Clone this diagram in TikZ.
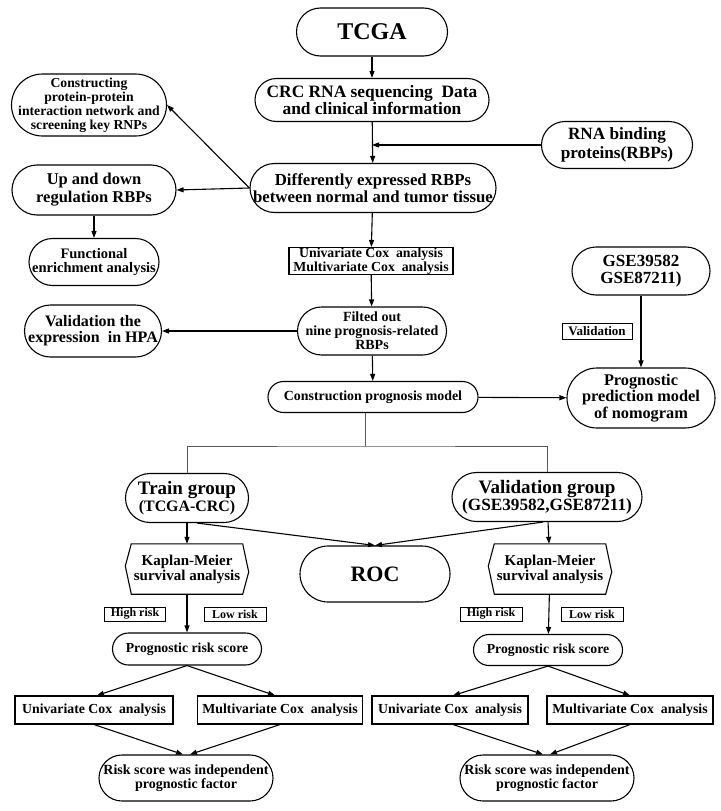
\documentclass[tikz,border=0pt]{standalone}
\usepackage{fontspec}
\setmainfont{Liberation Serif}
\usetikzlibrary{arrows.meta}
\tikzset{
  fs/.style 2 args={font=\fontsize{#1}{#2}\selectfont\bfseries},
  nd/.style={draw, line width=1.1pt, align=center, inner sep=0pt},
  pill/.style 2 args={nd, rectangle, minimum width=#1, minimum height=#2, rounded corners=#2/2},
  bx/.style 2 args={nd, rectangle, minimum width=#1, minimum height=#2},
  lbl/.style 2 args={draw, line width=0.9pt, align=center, inner sep=0pt, rectangle, minimum width=#1, minimum height=#2},
  kmnode/.style={align=center, inner sep=0pt, minimum width=123, minimum height=50},
  arr/.style={line width=1.1pt, -{Triangle[length=7pt,width=5pt]}},
  branch/.style={line width=0.9pt, draw=black!65},
}
\begin{document}
\begin{tikzpicture}[x=1pt,y=-1pt]
\useasboundingbox (0,0) rectangle (720,811);

% top column
\node[pill={151}{48}, fs={24}{26}] (tcga) at (372,32) {TCGA};
\node[pill={234}{43}, fs={17.4}{17}] (crc) at (372,100) {CRC RNA sequencing~ Data\\and clinical information};
\node[pill={151}{47}, fs={17.2}{19}] (rbp) at (617,145) {RNA binding\\proteins(RBPs)};
\node[pill={246}{49}, fs={16.8}{17}] (diff) at (373,188) {Differently expressed RBPs\\between normal and tumor tissue};
\node[pill={155}{62}, fs={13.7}{14}] (ppi) at (89,105) {Constructing\\protein-protein\\interaction network and\\screening key RNPs};
\node[pill={164}{50}, fs={16.5}{18}] (updown) at (94,190) {Up and down\\regulation RBPs};
\node[pill={130}{47}, fs={14.5}{14.3}] (func) at (94,262) {Functional\\enrichment analysis};
\node[bx={164}{27}, fs={13.8}{13.5}] (cox) at (371,261) {Univariate Cox~ analysis\\Multivariate Cox~ analysis};
\node[pill={149}{48}, fs={14}{14}] (filt) at (372,331) {Filted out\\nine prognosis-related\\RBPs};
\node[pill={137}{52}, fs={16}{16}] (hpa) at (93,331) {Validation the\\expression~ in HPA};
\node[pill={210}{31}, fs={13.9}{14}] (constr) at (373,397) {Construction prognosis model};
\node[pill={148}{60}, fs={16.3}{16.7}] (nomo) at (641,398) {Prognostic\\prediction model\\of nomogram};
\node[pill={138}{48}, fs={17}{17}] (gse) at (641,271) {GSE39582\\GSE87211)};
\node[lbl={70}{16}, fs={13}{13}] (vlab) at (597,331) {Validation};

% groups
\node[pill={123}{49}, nd] (train) at (187,498) {{\fontsize{19}{18}\selectfont\bfseries Train group}\\{\fontsize{15.9}{16}\selectfont\bfseries (TCGA-CRC)}};
\node[pill={190}{49}, nd] (valg) at (547,497) {{\fontsize{19}{17}\selectfont\bfseries Validation group}\\{\fontsize{17.2}{17}\selectfont\bfseries (GSE39582,GSE87211)}};
\node[pill={150}{56}, fs={22}{24}] (roc) at (375,574) {ROC};

% Kaplan-Meier hexagons
\node[kmnode, fs={15}{15}] (km1) at (187,569) {Kaplan-Meier\\survival analysis};
\node[kmnode, fs={15}{15}] (km2) at (550,569) {Kaplan-Meier\\survival analysis};
\foreach \k in {km1,km2}{
  \draw[line width=1.1pt] ([xshift=6pt]\k.north west) -- ([xshift=-6pt]\k.north east)
    -- ([yshift=-3pt]\k.east) -- ([xshift=-6pt]\k.south east)
    -- ([xshift=6pt]\k.south west) -- ([yshift=3pt]\k.west) -- cycle;
}

\node[lbl={61}{14}, fs={12}{12}] (hr1) at (135,614) {High risk};
\node[lbl={62}{14}, fs={12}{12}] (lr1) at (235,614) {Low risk};
\node[lbl={62}{14}, fs={12}{12}] (hr2) at (491,614) {High risk};
\node[lbl={62}{14}, fs={12}{12}] (lr2) at (592,614) {Low risk};

\node[pill={149}{32}, fs={13.75}{14}] (prs1) at (187,649) {Prognostic risk score};
\node[pill={149}{31}, fs={13.75}{14}] (prs2) at (548,650) {Prognostic risk score};

\node[bx={158}{28}, fs={13.8}{14}] (uc1) at (94,710) {Univariate Cox~ analysis};
\node[bx={165}{28}, fs={13.8}{14}] (mc1) at (280,710) {Multivariate Cox~ analysis};
\node[bx={156}{28}, fs={13.8}{14}] (uc2) at (450,710) {Univariate Cox~ analysis};
\node[bx={166}{28}, fs={13.8}{14}] (mc2) at (630,710) {Multivariate Cox~ analysis};

\node[pill={174}{46}, fs={14}{14.3}] (rs1) at (186,778) {Risk score was independent\\prognostic factor};
\node[pill={174}{46}, fs={14}{14.3}] (rs2) at (547,778) {Risk score was independent\\prognostic factor};

% connectors
\draw[arr] (tcga) -- (crc);
\draw[arr] (crc) -- (diff);
\draw[arr] (rbp.west) -- (rbp.west -| crc.south);
\draw[arr] (diff.west) -- (ppi.east);
\draw[arr] (diff.west) -- (updown.east);
\draw[arr] (updown) -- (func);
\draw[arr] (diff) -- (cox);
\draw[arr] (cox) -- (filt);
\draw[arr] (filt) -- (hpa);
\draw[arr] (filt) -- (constr);
\draw[arr] (constr) -- (nomo);
\draw[arr] (gse) -- (nomo);

\coordinate (bj) at (365,446);
\draw[branch] (constr.south -| bj) -- (bj);
\draw[branch] (train.north) |- (bj) -| (valg.north);

\draw[arr] (train) -- (km1);
\draw[arr] (valg) -- (km2);
\draw[arr] ([xshift=10pt]train.south) -- (roc.north);
\draw[arr] ([xshift=-4pt]valg.south) -- (roc.north);

\draw[arr] (km1) -- (prs1);
\draw[arr] (km2) -- (prs2);

\draw[arr] (prs1.south) -- ([xshift=3pt]uc1.north);
\draw[arr] (prs1.south) -- ([xshift=-5pt]mc1.north);
\draw[arr] (prs2.south) -- ([xshift=3pt]uc2.north);
\draw[arr] (prs2.south) -- (mc2.north);

\draw[arr] (uc1.south) -- ([xshift=-3pt]rs1.north);
\draw[arr] (mc1.south) -- ([xshift=4pt]rs1.north);
\draw[arr] ([xshift=3pt]uc2.south) -- ([xshift=-4pt]rs2.north);
\draw[arr] (mc2.south) -- ([xshift=3pt]rs2.north);
\end{tikzpicture}
\end{document}
